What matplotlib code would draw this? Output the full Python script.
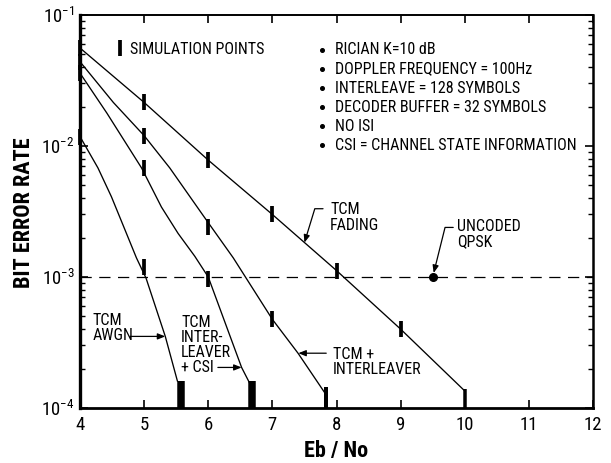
import matplotlib
matplotlib.use("Agg")
import matplotlib.pyplot as plt
from matplotlib import font_manager
from matplotlib.ticker import FixedLocator, LogLocator, NullFormatter

# ---------------------------------------------------------------- data
# simulated curves (Eb/No in dB, bit error rate)
awgn_ebno = [4.0, 4.28, 4.49, 4.70, 4.88, 5.03, 5.33, 5.52]
awgn_ber = [1.18e-2, 6.8e-3, 4.1e-3, 2.3e-3, 1.4e-3, 9.8e-4, 3.52e-4, 1.6e-4]

csi_ebno = [4.0, 4.42, 4.96, 5.27, 5.53, 5.79, 6.0, 6.52, 6.66]
csi_ber = [3.6e-2, 1.78e-2, 6.8e-3, 3.42e-3, 2.15e-3, 1.44e-3, 1.0e-3, 2.04e-4, 1.5e-4]

ilv_ebno = [4.0, 4.52, 5.0, 5.4, 5.92, 6.39, 7.0, 7.4, 7.82]
ilv_ber = [4.4e-2, 2.15e-2, 1.2e-2, 6.8e-3, 2.95e-3, 1.4e-3, 4.75e-4, 2.62e-4, 1.3e-4]

fad_ebno = [4, 5, 6, 7, 8, 9, 10]
fad_ber = [5.6e-2, 2.15e-2, 7.8e-3, 3.0e-3, 1.12e-3, 4.0e-4, 1.35e-4]

# simulation points
awgn_pts_x = [4, 5]
awgn_pts_y = [1.18e-2, 1.2e-3]
csi_pts_x = [4, 5, 6]
csi_pts_y = [3.6e-2, 6.8e-3, 9.6e-4]
ilv_pts_x = [4, 5, 6, 7]
ilv_pts_y = [4.4e-2, 1.2e-2, 2.4e-3, 4.75e-4]
fad_pts_x = [4, 5, 6, 7, 8, 9]
fad_pts_y = [5.6e-2, 2.15e-2, 7.8e-3, 3.0e-3, 1.12e-3, 4.0e-4]

# last simulation point of each curve (bar drawn up from the floor)
end_x = [5.57, 6.69, 7.84, 10.0]
end_y = [1.6e-4, 1.6e-4, 1.45e-4, 1.4e-4]
end_w = [7.5, 7.5, 4.0, 3.5]   # bar widths in pixels

# uncoded QPSK reference
qpsk_ebno = 9.5
qpsk_ber = 1e-3

x_ticks = [4, 5, 6, 7, 8, 9, 10, 11, 12]
y_ticks = [1e-4, 1e-3, 1e-2, 1e-1]
y_tick_labels = [r"$10^{-4}$", r"$10^{-3}$", r"$10^{-2}$", r"$10^{-1}$"]

notes = [
    "RICIAN K=10 dB",
    "DOPPLER FREQUENCY = 100Hz",
    "INTERLEAVE = 128 SYMBOLS",
    "DECODER BUFFER = 32 SYMBOLS",
    "NO ISI",
    "CSI = CHANNEL STATE INFORMATION",
]


# ---------------------------------------------------------------- fonts
def pick_narrow_font():
    """Return (family, stretch) of a narrow sans face if one is installed."""
    entries = font_manager.fontManager.ttflist
    names = {f.name for f in entries}
    for fam in ["Liberation Sans Narrow", "Roboto Condensed", "Open Sans Condensed",
                "Noto Sans Condensed", "DejaVu Sans Condensed", "Arial Narrow"]:
        if fam in names:
            return fam, "normal"
    for fam in ["DejaVu Sans", "Noto Sans", "Open Sans", "Roboto", "Liberation Sans"]:
        for f in entries:
            if f.name == fam and str(f.stretch) in ("condensed", "semi-condensed",
                                                     "extra-condensed"):
                return fam, str(f.stretch)
    for fam in ["Roboto", "Liberation Sans", "DejaVu Sans"]:
        if fam in names:
            return fam, "normal"
    return "DejaVu Sans", "normal"


narrow, stretch = pick_narrow_font()
plt.rcParams["font.family"] = [narrow, "DejaVu Sans"]
plt.rcParams["font.stretch"] = stretch
plt.rcParams["mathtext.fontset"] = "custom"
plt.rcParams["mathtext.rm"] = narrow
plt.rcParams["mathtext.it"] = narrow
plt.rcParams["mathtext.bf"] = narrow + ":bold"

fig = plt.figure(figsize=(6.11, 4.63), dpi=100)
ax = fig.add_axes([80 / 611, 1 - 408 / 463, 513 / 611, 393 / 463])
ax.set_yscale("log")
ax.set_xlim(4, 12)
ax.set_ylim(1e-4, 1e-1)

line_kw = dict(color="black", lw=0.95, solid_capstyle="round")
for xs, ys in [(awgn_ebno, awgn_ber), (csi_ebno, csi_ber),
               (ilv_ebno, ilv_ber), (fad_ebno, fad_ber)]:
    ax.plot(xs, ys, **line_kw)

mk_kw = dict(ls="none", marker="|", color="black", ms=12, mew=2.7, clip_on=False)
for xs, ys in [(awgn_pts_x, awgn_pts_y), (csi_pts_x, csi_pts_y),
               (ilv_pts_x, ilv_pts_y), (fad_pts_x, fad_pts_y)]:
    ax.plot(xs, ys, **mk_kw)

for x, y, w in zip(end_x, end_y, end_w):
    ax.vlines(x, 1e-4, y, colors="black", lw=w * 0.72)

# uncoded QPSK threshold
ax.axhline(qpsk_ber, color="black", lw=0.9, dashes=(9, 6))
ax.plot([qpsk_ebno], [qpsk_ber], "o", color="black", ms=5.5)

# ---------------------------------------------------------------- labels
fs = 11.5
ax.plot([0.078], [0.915], transform=ax.transAxes, **mk_kw)
ax.text(0.097, 0.913, "SIMULATION POINTS", transform=ax.transAxes,
        fontsize=fs, va="center", ha="left")

y0 = 0.911
for i, note in enumerate(notes):
    yy = y0 - i * 0.0485
    ax.plot([0.472], [yy], "o", color="black", ms=2.6, transform=ax.transAxes)
    ax.text(0.497, yy, note, transform=ax.transAxes, fontsize=fs,
            va="center", ha="left")

arrow = dict(arrowstyle="-|>,head_length=0.45,head_width=0.18", color="black",
             lw=0.9, shrinkA=0, shrinkB=0)

ax.text(7.90, 2.84e-3, "TCM\nFADING", fontsize=fs, va="center", ha="left",
        linespacing=1.1)
ax.annotate("", xy=(7.5, 1.83e-3), xytext=(7.79, 3.32e-3),
            arrowprops=dict(arrow, connectionstyle="angle,angleA=0,angleB=73,rad=0"))

ax.text(9.88, 2.14e-3, "UNCODED\nQPSK", fontsize=fs, va="center", ha="left",
        linespacing=1.0)
ax.annotate("", xy=(qpsk_ebno, qpsk_ber), xytext=(9.82, 2.39e-3),
            arrowprops=dict(arrow, shrinkB=3,
                            connectionstyle="angle,angleA=0,angleB=76,rad=0"))

ax.text(4.20, 4.07e-4, "TCM\nAWGN", fontsize=fs, va="center", ha="left",
        linespacing=1.0)
ax.annotate("", xy=(5.33, 3.52e-4), xytext=(4.78, 3.52e-4), arrowprops=arrow)

ax.text(5.575, 3.04e-4, "TCM\nINTER-\nLEAVER\n+ CSI", fontsize=fs,
        va="center", ha="left", linespacing=1.0)
ax.annotate("", xy=(6.52, 2.04e-4), xytext=(6.15, 2.04e-4), arrowprops=arrow)

ax.text(7.945, 2.26e-4, "TCM +\nINTERLEAVER", fontsize=fs, va="center",
        ha="left", linespacing=1.0)
ax.annotate("", xy=(7.405, 2.62e-4), xytext=(7.84, 2.62e-4), arrowprops=arrow)

# ---------------------------------------------------------------- axes
ax.xaxis.set_major_locator(FixedLocator(x_ticks))
ax.set_xticklabels([str(t) for t in x_ticks])
ax.yaxis.set_major_locator(FixedLocator(y_ticks))
ax.set_yticklabels(y_tick_labels)
ax.yaxis.set_minor_locator(LogLocator(base=10, subs=range(2, 10)))
ax.yaxis.set_minor_formatter(NullFormatter())
ax.tick_params(axis="both", which="major", direction="in", length=6,
               width=1.2, top=True, right=True, labelsize=13.5, pad=6)
ax.tick_params(axis="y", which="minor", direction="in", length=3.5,
               width=1.0, right=True)
ax.tick_params(axis="y", which="major", pad=4)

ax.spines["left"].set_linewidth(2.4)
ax.spines["bottom"].set_linewidth(2.0)
ax.spines["right"].set_linewidth(1.8)
ax.spines["top"].set_linewidth(1.4)

ax.set_ylabel("BIT ERROR RATE", fontsize=16, fontweight="heavy")
ax.yaxis.set_label_coords(-0.110, 0.496)
ax.set_xlabel("Eb / No", fontsize=16, fontweight="heavy")
ax.xaxis.set_label_coords(0.5, -0.109)
ax.xaxis.label.set_va("center")
ax.yaxis.label.set_va("center")

fig.savefig("out.png", dpi=100)
